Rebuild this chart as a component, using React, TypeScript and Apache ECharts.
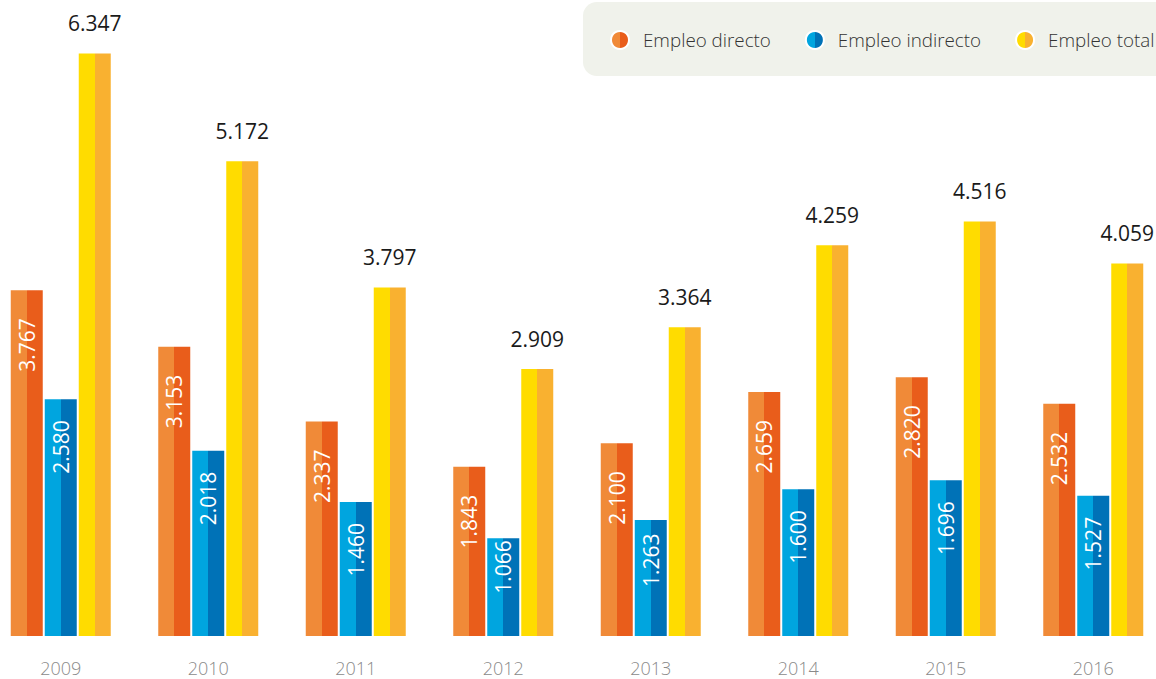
import React, { useEffect, useRef } from "react";
import * as echarts from "echarts";

const years = ["2009", "2010", "2011", "2012", "2013", "2014", "2015", "2016"];
const empleoDirecto = [3767, 3153, 2337, 1843, 2100, 2659, 2820, 2532];
const empleoIndirecto = [2580, 2018, 1460, 1066, 1263, 1600, 1696, 1527];
const empleoTotal = [6347, 5172, 3797, 2909, 3364, 4259, 4516, 4059];
const seriesNames = ["Empleo directo", "Empleo indirecto", "Empleo total"];

const FONT = "'Open Sans', 'Noto Sans', sans-serif";
const SHIFT = 13; // chart canvas extends 13px left of the visible page

function twoTone(light: string, dark: string) {
  return {
    type: "linear",
    x: 0,
    y: 0,
    x2: 1,
    y2: 0,
    colorStops: [
      { offset: 0, color: light },
      { offset: 0.5, color: light },
      { offset: 0.5, color: dark },
      { offset: 1, color: dark },
    ],
  };
}

function fmt(v: number) {
  const s = String(Math.round(v));
  return s.replace(/\B(?=(\d{3})+(?!\d))/g, ".");
}

function blueDistance(v: number) {
  return Math.min(21, Math.max(2, (v - 1040) * 0.06));
}

export default function App() {
  const ref = useRef<HTMLDivElement>(null);

  useEffect(() => {
    if (!ref.current) return;
    const chart = echarts.init(ref.current, undefined, { renderer: "svg" });

    const insideLabel = (distance: number) => ({
      show: true,
      position: "insideTop",
      distance,
      rotate: 90,
      align: "right",
      verticalAlign: "middle",
      color: "#ffffff",
      fontFamily: FONT,
      fontSize: 21,
      fontWeight: 500,
      formatter: (p: any) => fmt(p.value),
    });

    const option: any = {
      animation: false,
      backgroundColor: "#ffffff",
      textStyle: { fontFamily: FONT },
      graphic: [
        {
          type: "rect",
          z: -10,
          silent: true,
          shape: { x: 583 + SHIFT, y: 2, width: 640, height: 74, r: 14 },
          style: { fill: "#F0F2EB" },
        },
      ],
      legend: {
        data: seriesNames,
        left: 610 + SHIFT,
        top: 30,
        padding: 0,
        icon: "circle",
        itemWidth: 18,
        itemHeight: 18,
        itemGap: 34,
        selectedMode: false,
        itemStyle: { borderColor: "#ffffff", borderWidth: 2 },
        textStyle: {
          fontFamily: FONT,
          fontSize: 18.8,
          fontWeight: 300,
          color: "#333333",
          padding: [0, 0, 0, 9],
        },
      },
      grid: { left: 0, right: 0, top: 0, bottom: 43 },
      xAxis: {
        type: "category",
        data: years,
        axisLine: { show: false },
        axisTick: { show: false },
        axisLabel: {
          color: "#8a8a8a",
          fontFamily: FONT,
          fontSize: 18,
          fontWeight: 300,
          margin: 23,
        },
      },
      yAxis: {
        type: "value",
        min: 0,
        max: 6930,
        show: false,
        splitLine: { show: false },
      },
      series: [
        {
          name: seriesNames[0],
          type: "bar",
          barWidth: 32,
          barGap: "6.25%",
          data: empleoDirecto,
          itemStyle: { color: twoTone("#F08A38", "#E95D1B") },
          label: insideLabel(28),
          emphasis: { disabled: true },
        },
        {
          name: seriesNames[1],
          type: "bar",
          barWidth: 32,
          barGap: "6.25%",
          data: empleoIndirecto.map((v) => ({
            value: v,
            label: { distance: blueDistance(v) },
          })),
          itemStyle: { color: twoTone("#00A5DF", "#0072B7") },
          label: insideLabel(20),
          emphasis: { disabled: true },
        },
        {
          name: seriesNames[2],
          type: "bar",
          barWidth: 32,
          barGap: "6.25%",
          data: empleoTotal,
          itemStyle: { color: twoTone("#FFDC00", "#F9B130") },
          label: {
            show: true,
            position: "top",
            distance: 20,
            color: "#1a1a1a",
            fontFamily: FONT,
            fontSize: 21,
            formatter: (p: any) => fmt(p.value),
          },
          emphasis: { disabled: true },
        },
      ],
    };

    chart.setOption(option);
    return () => chart.dispose();
  }, []);

  return (
    <div
      style={{
        position: "fixed",
        left: 0,
        top: 0,
        width: 1156,
        height: 679,
        overflow: "hidden",
        background: "#ffffff",
      }}
    >
      <div
        ref={ref}
        style={{
          position: "absolute",
          left: -SHIFT,
          top: 0,
          width: 1156 + 2 * SHIFT - 2,
          height: 679,
        }}
      />
    </div>
  );
}
